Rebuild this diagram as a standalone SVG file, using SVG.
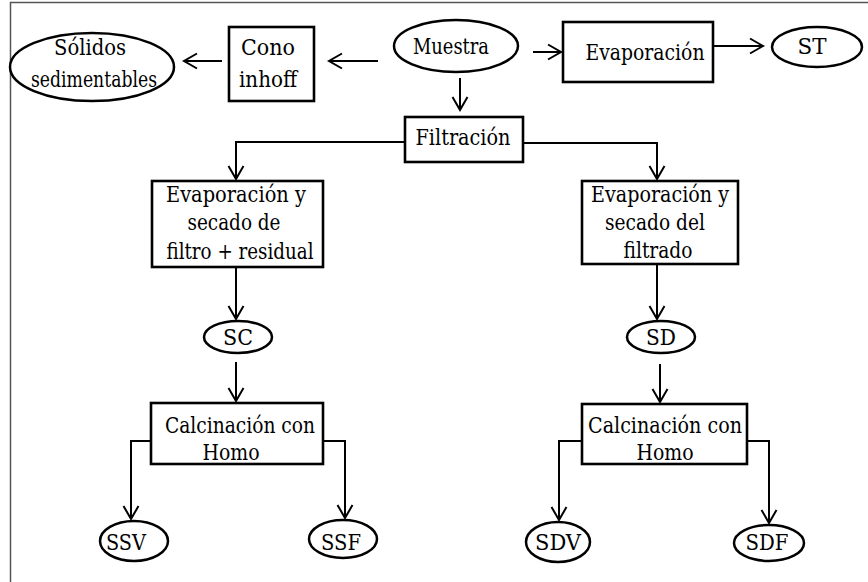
<svg xmlns="http://www.w3.org/2000/svg" width="868" height="582" viewBox="0 0 868 582">
<style>
  .box { fill: #fff; stroke: #000; stroke-width: 2.6; }
  .ell { fill: #fff; stroke: #000; stroke-width: 2.5; }
  .t { font-family: 'DejaVu Serif', serif; font-size: 22.5px; fill: #000; text-anchor: middle; }
  .c { fill: none; stroke: #000; stroke-width: 2; marker-end: url(#arr); }
  .frame { stroke: #555; stroke-width: 1.5; fill: none; }
</style>
<defs>
  <marker id="arr" markerUnits="userSpaceOnUse" markerWidth="22" markerHeight="22" viewBox="-16 -11 18 22" refX="0" refY="0" orient="auto">
    <path d="M-13,-7.5 L0,0 L-13,7.5" fill="none" stroke="#000" stroke-width="2"/>
  </marker>
</defs>
<rect width="868" height="582" fill="#fff"/>
<path class="frame" d="M10.5,582 V2.5 H868"/>

<g id="connectors">
  <line class="c" x1="222" y1="61" x2="184" y2="61"/>
  <line class="c" x1="378" y1="61" x2="329" y2="61"/>
  <line class="c" x1="533" y1="52" x2="561" y2="52"/>
  <line class="c" x1="713" y1="46" x2="763" y2="46"/>
  <line class="c" x1="460" y1="78" x2="460" y2="110"/>
  <path class="c" d="M405,142 H236 V179"/>
  <path class="c" d="M523,143 H657 V179"/>
  <line class="c" x1="236" y1="267" x2="236" y2="319"/>
  <line class="c" x1="657" y1="264" x2="657" y2="319"/>
  <line class="c" x1="236" y1="362" x2="236" y2="401"/>
  <line class="c" x1="660" y1="364" x2="660" y2="402"/>
  <path class="c" d="M151,441 H131 V519"/>
  <path class="c" d="M323,441 H345 V518"/>
  <path class="c" d="M582,441 H559 V520"/>
  <path class="c" d="M747,441 H769 V523"/>
</g>

<g id="solidos">
  <ellipse class="ell" cx="92" cy="67" rx="82" ry="34"/>
  <text class="t" x="90" y="55" textLength="72" lengthAdjust="spacingAndGlyphs">Sólidos</text>
  <text class="t" x="94" y="87" textLength="126" lengthAdjust="spacingAndGlyphs">sedimentables</text>
</g>
<g id="cono">
  <rect class="box" x="229" y="27" width="85" height="74"/>
  <text class="t" x="268" y="55" textLength="54" lengthAdjust="spacingAndGlyphs">Cono</text>
  <text class="t" x="268" y="87" textLength="58" lengthAdjust="spacingAndGlyphs">inhoff</text>
</g>
<g id="muestra">
  <ellipse class="ell" cx="456" cy="46" rx="62" ry="26"/>
  <text class="t" x="451" y="54" textLength="76" lengthAdjust="spacingAndGlyphs">Muestra</text>
</g>
<g id="evaporacion">
  <rect class="box" x="563" y="22" width="150" height="60"/>
  <text class="t" x="645" y="60" textLength="119" lengthAdjust="spacingAndGlyphs">Evaporación</text>
</g>
<g id="st">
  <ellipse class="ell" cx="817" cy="47" rx="45" ry="20"/>
  <text class="t" x="812" y="54" textLength="29" lengthAdjust="spacingAndGlyphs">ST</text>
</g>
<g id="filtracion">
  <rect class="box" x="405" y="117" width="118" height="45"/>
  <text class="t" x="463" y="145" textLength="95" lengthAdjust="spacingAndGlyphs">Filtración</text>
</g>
<g id="evap-residual">
  <rect class="box" x="152" y="181" width="171" height="86"/>
  <text class="t" x="236" y="202" textLength="140" lengthAdjust="spacingAndGlyphs">Evaporación y</text>
  <text class="t" x="234" y="230" textLength="93" lengthAdjust="spacingAndGlyphs">secado de</text>
  <text class="t" x="240" y="259" textLength="147" lengthAdjust="spacingAndGlyphs">filtro + residual</text>
</g>
<g id="evap-filtrado">
  <rect class="box" x="582" y="181" width="156" height="83"/>
  <text class="t" x="660" y="202" textLength="138" lengthAdjust="spacingAndGlyphs">Evaporación y</text>
  <text class="t" x="655" y="230" textLength="100" lengthAdjust="spacingAndGlyphs">secado del</text>
  <text class="t" x="658" y="258" textLength="69" lengthAdjust="spacingAndGlyphs">filtrado</text>
</g>
<g id="sc">
  <ellipse class="ell" cx="238" cy="337" rx="34" ry="16"/>
  <text class="t" x="238" y="345" textLength="30" lengthAdjust="spacingAndGlyphs">SC</text>
</g>
<g id="sd">
  <ellipse class="ell" cx="661" cy="337" rx="34" ry="16"/>
  <text class="t" x="661" y="345" textLength="30" lengthAdjust="spacingAndGlyphs">SD</text>
</g>
<g id="calc1">
  <rect class="box" x="151" y="403" width="172" height="61"/>
  <text class="t" x="240" y="433" textLength="150" lengthAdjust="spacingAndGlyphs">Calcinación con</text>
  <text class="t" x="231" y="460" textLength="57" lengthAdjust="spacingAndGlyphs">Homo</text>
</g>
<g id="calc2">
  <rect class="box" x="582" y="404" width="165" height="60"/>
  <text class="t" x="665" y="433" textLength="154" lengthAdjust="spacingAndGlyphs">Calcinación con</text>
  <text class="t" x="665" y="460" textLength="57" lengthAdjust="spacingAndGlyphs">Homo</text>
</g>
<g id="ssv">
  <ellipse class="ell" cx="134" cy="541" rx="34" ry="20"/>
  <text class="t" x="126" y="550" textLength="40" lengthAdjust="spacingAndGlyphs">SSV</text>
</g>
<g id="ssf">
  <ellipse class="ell" cx="343" cy="539" rx="34" ry="19"/>
  <text class="t" x="341" y="550" textLength="40" lengthAdjust="spacingAndGlyphs">SSF</text>
</g>
<g id="sdv">
  <ellipse class="ell" cx="558" cy="542" rx="32" ry="20"/>
  <text class="t" x="558" y="550" textLength="46" lengthAdjust="spacingAndGlyphs">SDV</text>
</g>
<g id="sdf">
  <ellipse class="ell" cx="769" cy="543" rx="35" ry="18"/>
  <text class="t" x="767" y="550" textLength="43" lengthAdjust="spacingAndGlyphs">SDF</text>
</g>
</svg>
